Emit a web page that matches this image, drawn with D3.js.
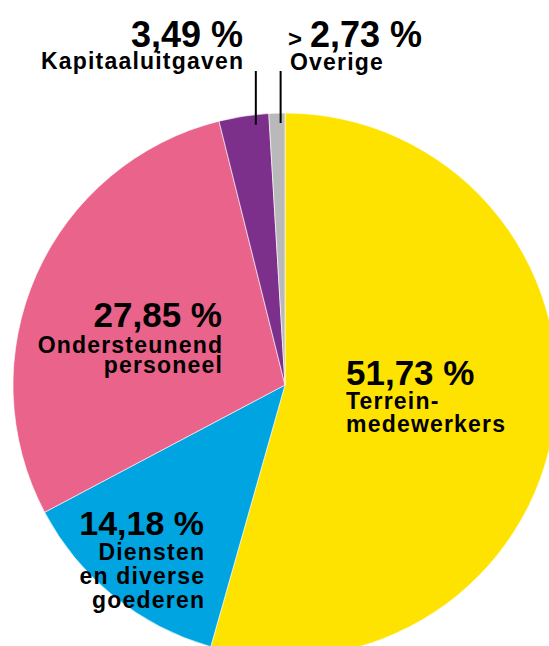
<!DOCTYPE html>
<html>
<head>
<meta charset="utf-8">
<script src="https://cdn.jsdelivr.net/npm/d3@7"></script>
<style>
  html, body { margin: 0; padding: 0; background: #fff; overflow: hidden; }
  svg { display: block; }
  text { font-family: "Liberation Sans", Arial, Helvetica, sans-serif; font-weight: bold; fill: #000; }
  .pct { font-size: 35px; }
  .name { font-size: 23px; letter-spacing: 1.2px; }
</style>
</head>
<body>
<script>
var w = 549;
var h = 646;

// categories, clockwise from 12 o'clock
var categories = ["Terrein-medewerkers", "Diensten en diverse goederen", "Ondersteunend personeel", "Kapitaaluitgaven", "Overige"];
var nameLines = [["Terrein-", "medewerkers"], ["Diensten", "en diverse", "goederen"], ["Ondersteunend", "personeel"], ["Kapitaaluitgaven"], ["Overige"]];
// printed percentages
var percentages = [51.73, 14.18, 27.85, 3.49, 2.73];
// slice sizes as they are drawn in the picture (%)
var drawnShares = [54.4, 12.85, 28.85, 2.95, 0.95];
var colors = ["#FFE300", "#00A4E0", "#E9638A", "#7D2F8C", "#B9B9B9"];

var cx = 285, cy = 385, radius = 272;

// label placement (relative to svg)
var labelPos = [
	{ x: 346, y: 385, anchor: "start", pctSize: 35, gap: 23.5, lead: 23 },
	{ x: 204, y: 535, anchor: "end", pctSize: 34, gap: 25, lead: 24 },
	{ x: 222, y: 327, anchor: "end", pctSize: 35, gap: 26, lead: 19.5 },
	{ x: 243, y: 47, anchor: "end", pctSize: 36, gap: 22, lead: 22 },
	{ x: 310, y: 47, anchor: "start", pctSize: 36, gap: 23, lead: 22, nameX: 290 }
];

var fmt = function(v) { return d3.format(".2f")(v).replace(".", ",") + " %"; };

var svg = d3.select("body")
	.append("svg")
	.attr("width", w)
	.attr("height", h);

var pie = d3.pie().sort(null).value(function(d) { return d; });
var arcs = pie(drawnShares);

var arc = d3.arc().innerRadius(0).outerRadius(radius);

var g = svg.append("g").attr("transform", "translate(" + cx + "," + cy + ")");

g.selectAll("path")
	.data(arcs)
	.enter()
	.append("path")
	.attr("d", arc)
	.attr("fill", function(d, i) { return colors[i]; })
	.attr("stroke", "#fff")
	.attr("stroke-width", 0.6);

// leader lines for the two small slices
[3, 4].forEach(function(i) {
	var a = arcs[i].startAngle + 0.72 * (arcs[i].endAngle - arcs[i].startAngle);
	var r = 262;
	var x = cx + r * Math.sin(a);
	var y = cy - r * Math.cos(a);
	svg.append("line")
		.attr("x1", x).attr("x2", x)
		.attr("y1", 71).attr("y2", y)
		.attr("stroke", "#000")
		.attr("stroke-width", 2);
});

// labels
labelPos.forEach(function(p, i) {
	svg.append("text")
		.attr("class", "pct")
		.attr("x", p.x)
		.attr("y", p.y)
		.attr("text-anchor", p.anchor)
		.style("font-size", p.pctSize + "px")
		.text(fmt(percentages[i]));
	var nx = p.nameX !== undefined ? p.nameX : p.x + (p.anchor === "end" ? 1.2 : 0);
	nameLines[i].forEach(function(line, j) {
		svg.append("text")
			.attr("class", "name")
			.attr("x", nx)
			.attr("y", p.y + p.gap + j * p.lead)
			.attr("text-anchor", p.anchor)
			.text(line);
	});
});

// small ">" before Overige value
svg.append("text")
	.attr("x", 288)
	.attr("y", 47)
	.style("font-size", "24px")
	.text(">");
</script>
</body>
</html>
